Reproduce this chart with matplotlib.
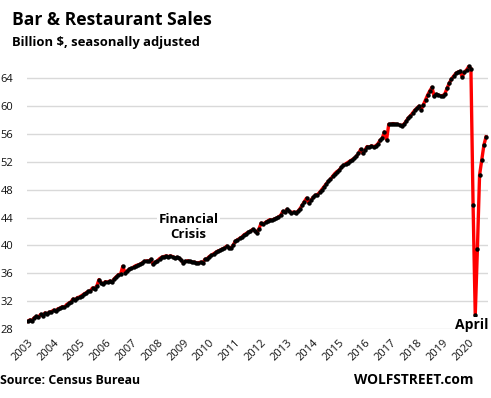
import numpy as np
import matplotlib
matplotlib.use("Agg")
import matplotlib.pyplot as plt

# Ventes mensuelles bars & restaurants, milliards $, janv. 2003 -> sept. 2020
y2003 = [29.1, 29.3, 29.2, 29.6, 29.8, 29.7, 30.1, 29.9, 30.3, 30.2, 30.4, 30.5]
y2004 = [30.7, 30.6, 30.9, 31.0, 31.2, 31.1, 31.5, 31.7, 31.9, 32.3, 32.2, 32.5]
y2005 = [32.6, 32.8, 33.0, 33.2, 33.4, 33.5, 33.9, 33.8, 34.2, 35.1, 34.6, 34.5]
y2006 = [34.8, 34.7, 34.9, 34.7, 35.2, 35.5, 35.8, 35.9, 37.0, 36.1, 36.3, 36.6]
y2007 = [36.7, 36.9, 37.1, 37.2, 37.3, 37.5, 37.7, 37.8, 37.7, 38.0, 37.3, 37.6]
y2008 = [37.8, 38.1, 38.3, 38.4, 38.5, 38.4, 38.5, 38.4, 38.2, 38.3, 38.2, 37.9]
y2009 = [37.5, 37.7, 37.8, 37.7, 37.6, 37.6, 37.5, 37.5, 37.6, 37.5, 38.0, 38.1]
y2010 = [38.4, 38.6, 38.8, 39.0, 39.2, 39.3, 39.5, 39.6, 39.9, 39.7, 39.6, 40.0]
y2011 = [40.6, 40.8, 41.0, 41.2, 41.5, 41.7, 41.9, 42.0, 42.3, 42.1, 41.8, 42.4]
y2012 = [43.2, 43.1, 43.3, 43.5, 43.7, 43.6, 43.8, 43.9, 44.1, 44.3, 44.9, 44.8]
y2013 = [45.2, 44.9, 44.7, 44.8, 44.7, 44.9, 45.3, 45.8, 46.3, 46.8, 46.1, 46.5]
y2014 = [46.9, 47.2, 47.3, 47.6, 48.0, 48.4, 48.8, 49.2, 49.5, 49.9, 50.3, 50.6]
y2015 = [50.8, 51.2, 51.5, 51.7, 51.9, 52.1, 52.3, 52.5, 52.8, 53.2, 53.8, 53.2]
y2016 = [53.7, 54.2, 54.1, 54.3, 54.2, 54.3, 54.6, 55.1, 55.4, 56.3, 55.2, 57.4]
y2017 = [57.4, 57.5, 57.4, 57.4, 57.3, 57.2, 57.4, 57.8, 58.3, 58.6, 59.0, 59.4]
y2018 = [59.7, 60.0, 59.5, 60.2, 60.9, 61.6, 62.2, 62.7, 61.4, 61.7, 61.6, 61.5]
y2019 = [61.5, 61.8, 62.6, 63.3, 63.9, 64.3, 64.7, 64.9, 65.0, 64.2, 64.9, 65.2]
y2020 = [65.7, 65.4, 45.8, 30.0, 39.5, 50.1, 52.2, 54.4, 55.6]

annees = [str(a) for a in range(2003, 2021)]
yticks = [28, 32, 36, 40, 44, 48, 52, 56, 60, 64]

ventes = np.array(y2003 + y2004 + y2005 + y2006 + y2007 + y2008 + y2009 + y2010
                  + y2011 + y2012 + y2013 + y2014 + y2015 + y2016 + y2017
                  + y2018 + y2019 + y2020)
mois = np.arange(len(ventes))

plt.rcParams['font.family'] = ['Open Sans', 'DejaVu Sans']

fig = plt.figure(figsize=(4.91, 3.98), dpi=100)
ax = fig.add_axes([27 / 491, 0.1734, 461 / 491, 0.6824])

ax.plot(mois, ventes, color='red', linewidth=2.4, zorder=3)
ax.plot(mois, ventes, 'o', color='black', markersize=2.2, zorder=4)

ax.set_ylim(28, 67)
ax.set_xlim(-0.3, 212.9)
ax.set_yticks(yticks)
ax.set_yticklabels([str(v) for v in yticks], fontsize=8, color='#111111')
ax.set_xticks(np.arange(0, 17 * 12 + 1, 12))
ax.set_xticklabels(annees, fontsize=8, rotation=45, ha='right',
                   rotation_mode='anchor', color='#111111')
ax.tick_params(axis='both', length=0)
ax.tick_params(axis='y', pad=10)
ax.tick_params(axis='x', pad=6)
ax.grid(axis='y', color='#d9d9d9', linewidth=1.0)
ax.set_axisbelow(True)
for s in ax.spines.values():
    s.set_visible(False)

# annotations
ax.text(74.4, 42.7, 'Financial\nCrisis', ha='center', va='center',
        fontsize=9.5, fontweight='bold', linespacing=1.2,
        bbox=dict(facecolor='white', edgecolor='none', pad=1), zorder=5)
ax.text(205.5, 28.6, 'April', ha='center', va='center', fontsize=10,
        fontweight='bold', bbox=dict(facecolor='white', edgecolor='none', pad=0.5),
        zorder=5, clip_on=False)

# titres
fig.text(12 / 491, 0.950, 'Bar & Restaurant Sales', fontsize=12.6,
         fontweight='bold', va='center', ha='left')
fig.text(12 / 491, 0.892, 'Billion $, seasonally adjusted', fontsize=9.4,
         fontweight='bold', va='center', ha='left')
fig.text(0.0, 0.045, 'Source: Census Bureau', fontsize=8.9,
         fontweight='bold', va='center', ha='left')
fig.text(474 / 491, 0.045, 'WOLFSTREET.com', fontsize=9.9,
         fontweight='bold', va='center', ha='right')

plt.savefig('out.png', dpi=100)
